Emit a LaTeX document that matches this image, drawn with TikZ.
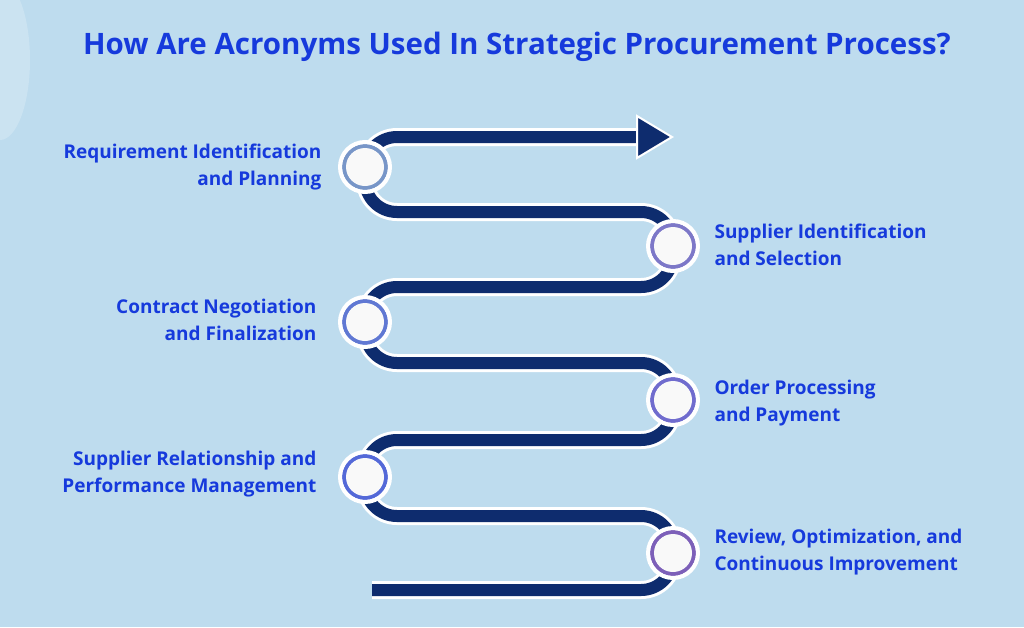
\documentclass[tikz,border=0pt]{standalone}
\usepackage{fontspec}
\setmainfont{Open Sans}
\definecolor{bgblue}{RGB}{190,220,238}
\definecolor{navy}{RGB}{14,44,110}
\definecolor{titleblue}{RGB}{22,58,220}
\definecolor{ringA}{RGB}{120,150,200}
\definecolor{ringB}{RGB}{125,120,200}
\tikzset{
  snake/.style={line width=12pt, navy, rounded corners=32pt},
  snakerim/.style={line width=18pt, white, rounded corners=32pt},
  steplabel/.style={font=\bfseries\fontsize{19}{27}\selectfont, text=titleblue, align=#1},
  ring/.style={circle, draw=white, line width=4pt, fill=white, minimum size=50pt,
    path picture={\fill[#1] (path picture bounding box.center) circle (23pt);
      \fill[white!95!gray] (path picture bounding box.center) circle (19pt);}},
}
\begin{document}
\begin{tikzpicture}[x=1pt,y=-1pt]
  \useasboundingbox (0,0) rectangle (1024,627);
  \clip (0,0) rectangle (1024,627);
  \fill[bgblue] (0,0) rectangle (1024,627);
  \fill[white, opacity=0.2] (0,60) ellipse (30pt and 80pt);

  \node[font=\bfseries\fontsize{29.5}{34}\selectfont, text=titleblue] (title) at (517,47)
    {How Are Acronyms Used In Strategic Procurement Process?};

  % the winding track
  \foreach \s in {snakerim,snake}
    \draw[\s] (640,137) -- (365,137) -- (365,212) -- (673,212) -- (673,287)
      -- (365,287) -- (365,363) -- (673,363) -- (673,440) -- (365,440)
      -- (365,516) -- (673,516) -- (673,590) -- (372,590);
  \draw[fill=navy, draw=white, line width=2pt] (637,116) -- (672,137) -- (637,158) -- cycle;

  % stops
  \node[ring=ringA] (s1) at (365,167) {};
  \node[ring=ringB] (s2) at (673,246) {};
  \node[ring=ringA!80!blue] (s3) at (365,322) {};
  \node[ring=ringB!90!blue] (s4) at (673,400) {};
  \node[ring=ringA!70!blue] (s5) at (365,477) {};
  \node[ring=ringB!80!violet] (s6) at (673,553) {};

  % labels
  \node[steplabel=right, anchor=east] (l1) at (325,167) {Requirement Identification\\and Planning};
  \node[steplabel=left, anchor=west] (l2) at (711,245) {Supplier Identification\\and Selection};
  \node[steplabel=right, anchor=east] (l3) at (320,320) {Contract Negotiation\\and Finalization};
  \node[steplabel=left, anchor=west] (l4) at (711,403) {Order Processing\\and Payment};
  \node[steplabel=right, anchor=east] (l5) at (320,474) {Supplier Relationship and\\Performance Management};
  \node[steplabel=left, anchor=west] (l6) at (711,552) {Review, Optimization, and\\Continuous Improvement};
\end{tikzpicture}
\end{document}
